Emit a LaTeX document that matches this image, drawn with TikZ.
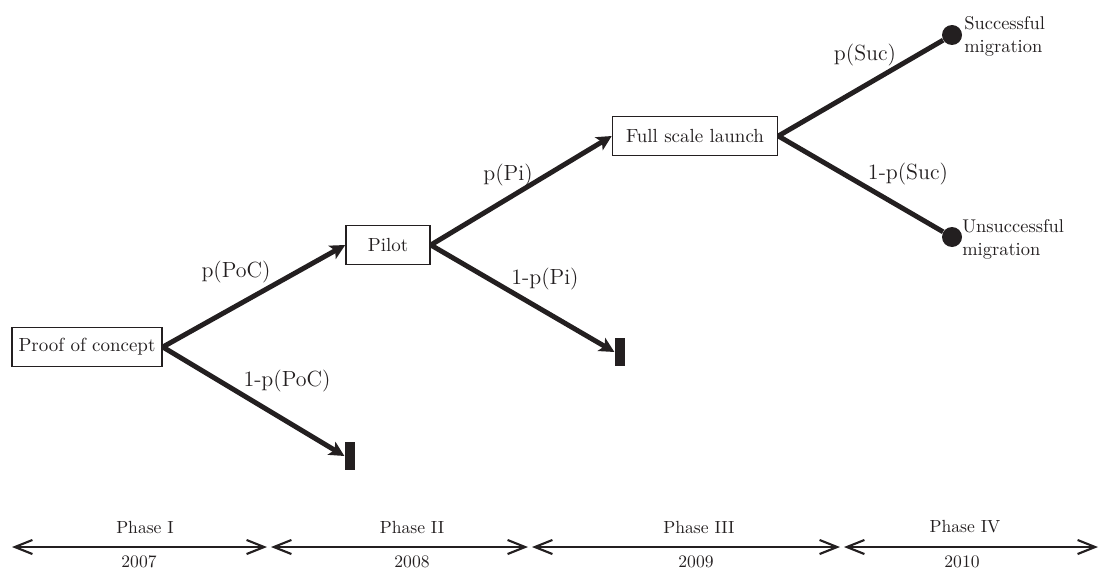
\documentclass[tikz,border=0pt]{standalone}
\usepackage{tikz}
\usetikzlibrary{arrows.meta, positioning}
\definecolor{ink}{HTML}{231F20}

\begin{document}
\begin{tikzpicture}[
    x=0.02cm, y=-0.02cm,
    box/.style={rectangle, draw=ink, line width=0.9pt, minimum height=0.78cm, inner sep=2pt, text=ink, font=\fontsize{10.8}{13}\selectfont},
    term/.style={rectangle, fill=ink, minimum width=0.21cm, minimum height=0.57cm, inner sep=0pt},
    leaf/.style={circle, fill=ink, minimum size=0.4cm, inner sep=0pt},
    arrow/.style={-{Stealth[length=8.5pt, width=8.5pt, inset=2pt]}, line width=2.8pt, draw=ink},
    branch/.style={line width=2.8pt, draw=ink},
    prob/.style={font=\fontsize{12.5}{15}\selectfont, text=ink},
    outcome/.style={anchor=west, align=left, inner sep=0pt, font=\fontsize{10.5}{13}\selectfont, text=ink},
    phase/.style={{Straight Barb[length=10pt, width=8pt, line width=1.2pt]}-{Straight Barb[length=10pt, width=8pt, line width=1.2pt]}, line width=1.2pt, draw=ink},
    tl/.style={text=ink}
]
    \useasboundingbox (0,0) rectangle (1101,571);

    % decision stages
    \node[box, minimum width=3.0cm] (poc) at (87,347) {Proof of concept};
    \node[box, minimum width=1.68cm] (pilot) at (388,245) {Pilot};
    \node[box, minimum width=3.3cm] (full) at (695,136) {Full scale launch};

    % end points
    \node[term] (endA) at (350,456) {};
    \node[term] (endB) at (620,352) {};
    \node[leaf] (succ) at (952,35) {};
    \node[leaf] (fail) at (952,237) {};
    \node[outcome] (succtxt) at (964,36) {Successful\\migration};
    \node[outcome] (failtxt) at (962,239) {Unsuccessful\\migration};

    % branches
    \draw[arrow] (poc.east) -- (pilot.west);
    \draw[arrow] (poc.east) -- (endA.west);
    \draw[arrow] (pilot.east) -- (full.west);
    \draw[arrow] (pilot.east) -- (endB.west);
    \draw[branch] (full.east) -- (succ);
    \draw[branch] (full.east) -- (fail);

    % probabilities
    \node[prob] (pPoC) at (236,272) {p(PoC)};
    \node[prob] (qPoC) at (287,381) {1-p(PoC)};
    \node[prob] (pPi) at (508,175) {p(Pi)};
    \node[prob] (qPi) at (545,279) {1-p(Pi)};
    \node[prob] (pSuc) at (865,55) {p(Suc)};
    \node[prob] (qSuc) at (908,174) {1-p(Suc)};

    % time line
    \coordinate (a1) at (12,547);  \coordinate (a2) at (267,547);
    \coordinate (b1) at (271,547); \coordinate (b2) at (528,547);
    \coordinate (c1) at (532,547); \coordinate (c2) at (840,547);
    \coordinate (d1) at (844,547); \coordinate (d2) at (1098,547);
    \draw[phase] (a1) -- (a2);
    \draw[phase] (b1) -- (b2);
    \draw[phase] (c1) -- (c2);
    \draw[phase] (d1) -- (d2);

    \node[tl] (ph1) at (145,527) {Phase I};
    \node[tl] (ph2) at (412,527) {Phase II};
    \node[tl] (ph3) at (699,527) {Phase III};
    \node[tl] (ph4) at (965,527) {Phase IV};
    \node[tl] (yr1) at (139,562) {2007};
    \node[tl] (yr2) at (412,562) {2008};
    \node[tl] (yr3) at (696,562) {2009};
    \node[tl] (yr4) at (962,562) {2010};
\end{tikzpicture}
\end{document}
